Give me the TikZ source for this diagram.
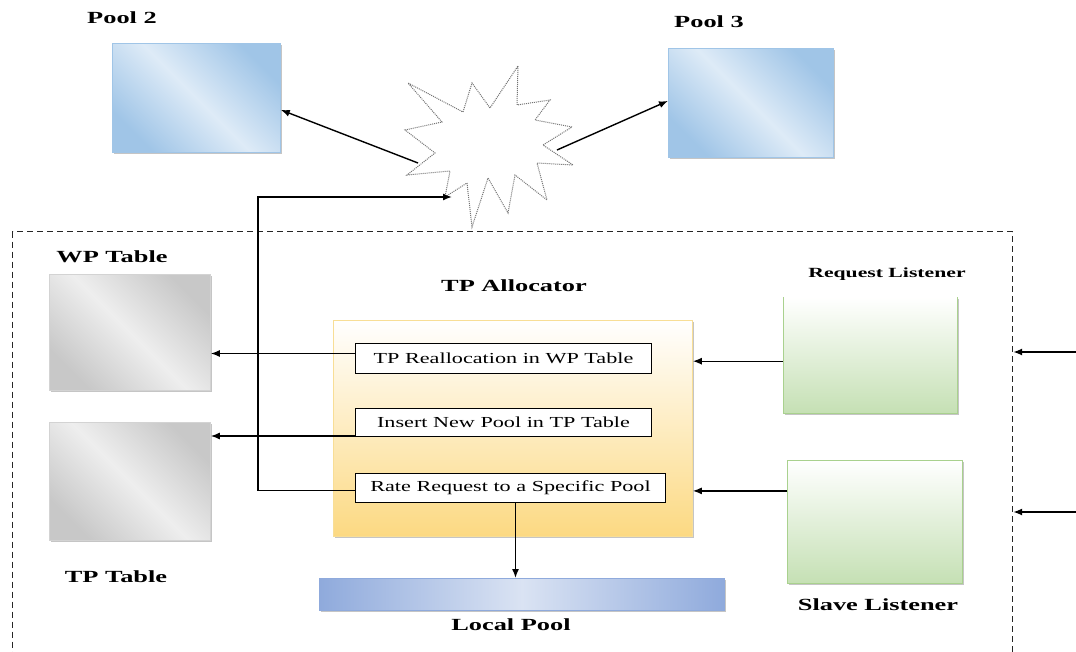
\documentclass[tikz,border=0pt]{standalone}
\usepackage{fontspec}
\setmainfont{Liberation Serif}
\newfontfamily\innerfont{Liberation Serif}[FakeStretch=1.45]
\newfontfamily\lblfont{Liberation Serif}[FakeStretch=1.55]
\usetikzlibrary{arrows.meta,shadows}
\definecolor{pooldark}{RGB}{160,197,231}
\definecolor{poollight}{RGB}{222,235,247}
\definecolor{graydark}{RGB}{200,200,200}
\definecolor{graylight}{RGB}{238,238,238}
\definecolor{locdark}{RGB}{143,170,220}
\definecolor{loclight}{RGB}{218,227,243}
\definecolor{yelbot}{RGB}{252,217,130}
\definecolor{yelborder}{RGB}{248,222,150}
\definecolor{grnbot}{RGB}{197,224,180}
\definecolor{grnborder}{RGB}{169,209,142}
\begin{document}
\begin{tikzpicture}[x=1pt,y=-1pt,
  box/.style={inner sep=0pt, anchor=north west,
    drop shadow={shadow xshift=1.5pt, shadow yshift=-2pt, fill=black!45, opacity=0.5}},
  poolbox/.style={box, draw=pooldark, line width=0.8pt, left color=pooldark, right color=pooldark, middle color=poollight, shading angle=-45},
  tablebox/.style={box, draw=graydark!80, line width=0.8pt, left color=graydark, right color=graydark, middle color=graylight, shading angle=-45},
  allocbox/.style={box, draw=yelborder, line width=0.8pt, top color=white, bottom color=yelbot},
  listbox/.style={box, top color=white, bottom color=grnbot},
  locbox/.style={box, draw=locdark, line width=0.8pt, left color=locdark, right color=locdark, middle color=loclight},
  task/.style={draw=black, line width=1pt, fill=white, inner sep=0pt, anchor=north west,
    font={\innerfont\fontsize{15.3pt}{18pt}\selectfont}},
  lbl/.style={inner sep=0pt, font={\lblfont\bfseries\fontsize{17pt}{20pt}\selectfont}},
  sysbox/.style={draw=black!85, line width=1.2pt, dash pattern=on 6pt off 4pt, inner sep=0pt, anchor=north west},
  burst/.style={draw=black!55, line width=1pt, densely dotted, fill=white},
  conn/.style={draw=black, line width=1.4pt},
  arr/.style={conn, -{Latex[length=9pt,width=7pt]}}
]
\useasboundingbox (0,0) rectangle (1076,652);

% outer system boundary
\node[sysbox, minimum width=1000pt, minimum height=440pt] (sys) at (12,231) {};

% remote pools
\node[poolbox, minimum width=168pt, minimum height=109pt] (pool2) at (112,43) {};
\node[poolbox, minimum width=165pt, minimum height=109pt] (pool3) at (668,48) {};
\node[lbl] (pool2l) at (122,18) {Pool 2};
\node[lbl] (pool3l) at (709,22) {Pool 3};

% network burst
\draw[burst] (518,66) -- (517,105) -- (550,100) -- (535,120) -- (572,127) -- (543,145)
  -- (573,165) -- (537,163) -- (547,200) -- (515,175) -- (508,213) -- (488,178)
  -- (472,227) -- (467,183) -- (445,197) -- (450,171) -- (407,175) -- (435,153)
  -- (405,130) -- (442,122) -- (408,83) -- (463,112) -- (472,83) -- (490,108) -- cycle;
\coordinate (bL) at (418,163);
\coordinate (bR) at (557,150);
\coordinate (bIn) at (452,197);

% tables
\node[tablebox, minimum width=161pt, minimum height=116pt] (wp) at (49,274) {};
\node[tablebox, minimum width=161pt, minimum height=118pt] (tp) at (49,422) {};
\node[lbl] (wpl) at (112,257) {WP Table};
\node[lbl] (tpl) at (116,577) {TP Table};

% allocator
\node[allocbox, minimum width=359pt, minimum height=216pt] (alloc) at (333,320) {};
\node[lbl] (allocl) at (514,286) {TP Allocator};
\node[task, minimum width=296pt, minimum height=30pt] (tpr) at (355,343) {TP Reallocation in WP Table};
\node[task, minimum width=296pt, minimum height=28pt] (ins) at (355,408) {Insert New Pool in TP Table};
\node[task, minimum width=310pt, minimum height=29pt] (rate) at (355,473) {Rate Request to a Specific Pool};

% local pool
\node[locbox, minimum width=405pt, minimum height=32pt] (loc) at (319,578) {};
\node[lbl] (locl) at (511,625) {Local Pool};

% listeners
\node[listbox, minimum width=174pt, minimum height=116pt] (rl) at (783,297) {};
\draw[draw=grnborder, line width=0.8pt] (rl.north west) -- (rl.south west) -- (rl.south east) -- (rl.north east);
\node[lbl, font={\lblfont\bfseries\fontsize{14pt}{17pt}\selectfont}] (rll) at (887,274) {Request Listener};
\node[listbox, draw=grnborder, line width=0.8pt, minimum width=175pt, minimum height=123pt] (sl) at (787,460) {};
\node[lbl] (sll) at (878,605) {Slave Listener};

% connectors
\draw[arr] (bL) -- ([yshift=-12pt]pool2.east);
\draw[arr] (bR) -- ([yshift=2pt]pool3.west);

\coordinate (t1) at ([yshift=5pt]tpr.west);
\draw[arr] (t1) -- (t1 -| wp.east);
\coordinate (t2) at ([yshift=1pt]ins.south west);
\draw[arr] (t2) -- (t2 -| tp.east);
\coordinate (t3) at ([yshift=-2.5pt]rate.west);
\coordinate (t3c) at (258,0);
\draw[arr] (t3) -- (t3 -| t3c) -- (t3c |- bIn) -- (bIn);
\coordinate (t4) at ([xshift=5pt]rate.south);
\draw[arr] (t4) -- (t4 |- loc.north);

\coordinate (r1) at ([yshift=-6pt]rl.west);
\draw[arr] (r1) -- (r1 -| alloc.east);
\coordinate (s1) at ([yshift=31pt]sl.west);
\draw[arr] (s1) -- (s1 -| alloc.east);

\coordinate (e1) at (1076,352);
\coordinate (e2) at (1076,512);
\draw[arr] (e1) -- (e1 -| sys.east);
\draw[arr] (e2) -- (e2 -| sys.east);
\end{tikzpicture}
\end{document}
